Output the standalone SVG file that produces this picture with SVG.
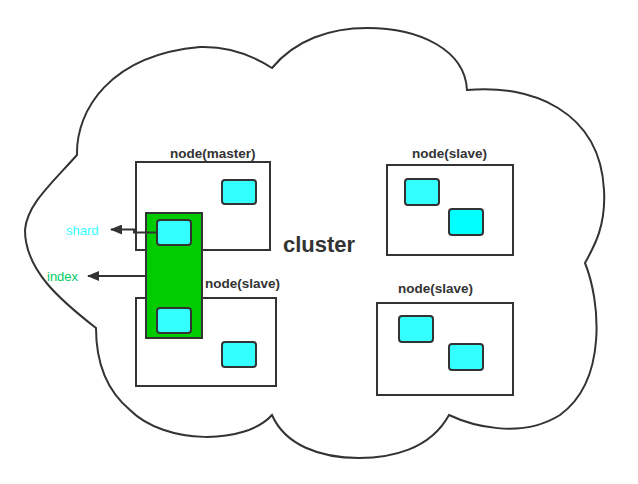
<svg xmlns="http://www.w3.org/2000/svg" width="638" height="484" viewBox="0 0 638 484">
<style>
.cloud{fill:#fff;stroke:#333;stroke-width:2}
.node{fill:#fff;stroke:#333;stroke-width:2}
.shard{fill:#33ffff;stroke:#333;stroke-width:2}
.idx{fill:#00cc00;stroke:#333;stroke-width:2}
.lbl{font-family:"Liberation Sans",Arial,sans-serif;font-weight:bold;font-size:13.5px;fill:#333}
.conn{fill:none;stroke:#333;stroke-width:2}
</style>
<defs>
<marker id="arr" markerWidth="12" markerHeight="10" refX="11" refY="5" orient="auto" markerUnits="userSpaceOnUse">
<path d="M0,0 L12,5 L0,10 Z" fill="#333"/>
</marker>
</defs>
<g id="cluster">
<path class="cloud" d="M77,155 C76,110 110,55 200,47 C230,46 255,57 272,68 C295,40 330,28 367,28 C420,28 465,50 467,90 C530,84 600,110 604,190 C606,225 595,245 585,263 C600,300 608,380 560,415 C520,440 470,425 449,415 C430,450 390,458 359,458 C320,458 285,445 272,415 C245,445 165,445 130,410 C100,385 96,350 96,328 C60,300 25,270 25,230 C27,205 50,185 77,155 Z"/>
<text x="283" y="252" style="font-family:'Liberation Sans',Arial,sans-serif;font-weight:bold;font-size:22px;fill:#333">cluster</text>
</g>
<g id="node-master">
<rect class="node" x="136" y="162" width="134" height="88"/>
<text class="lbl" x="170" y="158">node(master)</text>
<rect class="shard" x="222" y="180" width="34" height="24" rx="3"/>
</g>
<g id="node-slave-1">
<rect class="node" x="136" y="298" width="140" height="88"/>
<text class="lbl" x="205" y="288">node(slave)</text>
<rect class="shard" x="222" y="342" width="34" height="25" rx="3"/>
</g>
<g id="node-slave-2">
<rect class="node" x="387" y="165" width="126" height="90"/>
<text class="lbl" x="412" y="158">node(slave)</text>
<rect class="shard" x="405" y="179" width="34" height="26" rx="3"/>
<rect x="449" y="209" width="34" height="26" rx="3" fill="#00ffff" stroke="#333" stroke-width="2"/>
</g>
<g id="node-slave-3">
<rect class="node" x="377" y="303" width="136" height="92"/>
<text class="lbl" x="398" y="293">node(slave)</text>
<rect class="shard" x="399" y="316" width="34" height="26" rx="3"/>
<rect class="shard" x="449" y="344" width="34" height="26" rx="3"/>
</g>
<g id="index">
<rect class="idx" x="146" y="213" width="56" height="125"/>
<rect class="shard" x="157" y="220" width="34" height="25" rx="3"/>
<rect class="shard" x="157" y="308" width="34" height="25" rx="3"/>
</g>
<g id="connectors">
<path class="conn" d="M157,232.5 H134 V229.5 H111" marker-end="url(#arr)"/>
<path class="conn" d="M146,276 H88" marker-end="url(#arr)"/>
</g>
<g id="labels">
<text x="66" y="235" style="font-family:'Liberation Sans',Arial,sans-serif;font-size:13px;fill:#33ffff">shard</text>
<text x="47" y="281" style="font-family:'Liberation Sans',Arial,sans-serif;font-size:13px;fill:#00cc66">index</text>
</g>
</svg>
